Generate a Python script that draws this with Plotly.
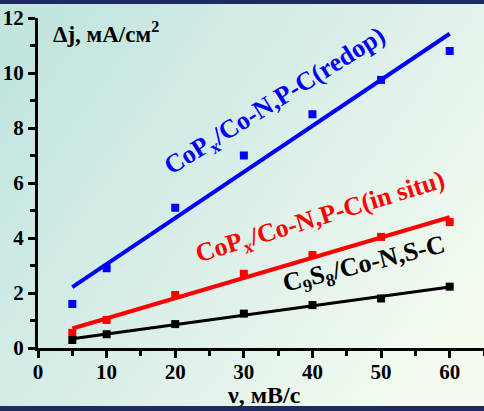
import base64
import numpy as np
import plotly.graph_objects as go

# ---- data ----
scan_rate = [5, 10, 20, 30, 40, 50, 60]
redop = [1.6, 2.9, 5.1, 7.0, 8.5, 9.75, 10.8]
in_situ = [0.55, 1.02, 1.93, 2.7, 3.38, 4.04, 4.58]
c9s8 = [0.29, 0.5, 0.87, 1.25, 1.56, 1.8, 2.23]

series = [
    ("CoP<sub>x</sub>/Co-N,P-C(redop)", redop, "#0000ff", 4),
    ("CoP<sub>x</sub>/Co-N,P-C(in situ)", in_situ, "#ff0000", 4),
    ("C<sub>9</sub>S<sub>8</sub>/Co-N,S-C", c9s8, "#000000", 3),
]

W, H = 484, 411
ML, MR, MT, MB = 38, 0, 18, 63
PW, PH = W - ML - MR, H - MT - MB

fig = go.Figure()
for name, ys, color, lw in series:
    k, b = np.polyfit(scan_rate, ys, 1)
    xl = np.array([scan_rate[0], scan_rate[-1]], dtype=float)
    fig.add_trace(go.Scatter(x=xl, y=k * xl + b, mode="lines",
                             line=dict(color=color, width=lw),
                             showlegend=False, hoverinfo="skip"))
    fig.add_trace(go.Scatter(x=scan_rate, y=ys, mode="markers",
                             marker=dict(symbol="square", size=8, color=color),
                             name=name, showlegend=False))

# background gradient as svg image
svg = f'''<svg xmlns="http://www.w3.org/2000/svg" width="{W}" height="{H}" viewBox="0 0 {W} {H}">
<defs><linearGradient id="g" x1="0" y1="0.2" x2="1" y2="0.8">
<stop offset="0" stop-color="#c2e5df"/>
<stop offset="0.5" stop-color="#dcefe9"/>
<stop offset="1" stop-color="#f5fcef"/>
</linearGradient></defs>
<rect x="0" y="0" width="{W}" height="{H}" fill="url(#g)"/>
<rect x="0" y="0" width="{W}" height="4" fill="#1e2b62"/>
<rect x="0" y="406" width="{W}" height="5" fill="#1e2b62"/>
</svg>'''
src = "data:image/svg+xml;base64," + base64.b64encode(svg.encode()).decode()
fig.add_layout_image(dict(source=src, xref="paper", yref="paper",
                          x=-ML / PW, y=1 + MT / PH, sizex=W / PW, sizey=H / PH,
                          sizing="stretch", xanchor="left", yanchor="top",
                          layer="below"))

font = "Liberation Serif, Times New Roman, serif"
annots = [
    dict(text=series[0][0], x=275, y=102, angle=-32, color="#0000ff", size=26),
    dict(text=series[1][0], x=320, y=218, angle=-17, color="#ff0000", size=26),
    dict(text=series[2][0], x=364, y=265, angle=-14, color="#000000", size=26),
]
for a in annots:
    fig.add_annotation(text=a["text"], xref="paper", yref="paper",
                       x=(a["x"] - ML) / PW, y=1 - (a["y"] - MT) / PH,
                       xanchor="center", yanchor="middle", showarrow=False,
                       textangle=a["angle"],
                       font=dict(family=font, size=a["size"], color=a["color"],
                                 weight="bold"))

fig.add_annotation(text="Δj, мА/см<sup>2</sup>", xref="paper", yref="paper",
                   x=(51 - ML) / PW, y=1 - (32 - MT) / PH, xanchor="left",
                   yanchor="middle", showarrow=False,
                   font=dict(family=font, size=23, color="black", weight="bold"))
fig.add_annotation(text="ν, мВ/с", xref="paper", yref="paper",
                   x=(264 - ML) / PW, y=1 - (395 - MT) / PH, xanchor="center",
                   yanchor="middle", showarrow=False,
                   font=dict(family=font, size=24, color="black", weight="bold"))

tickfont = dict(family=font, size=21, color="black", weight="bold")
fig.update_layout(
    width=W, height=H,
    margin=dict(l=ML, r=MR, t=MT, b=MB, pad=0),
    paper_bgcolor="#d8eee8", plot_bgcolor="rgba(0,0,0,0)",
    font=dict(family=font, size=21, color="black"),
    xaxis=dict(range=[0, 65], tickvals=[0, 10, 20, 30, 40, 50, 60],
               showgrid=False, zeroline=False, showline=True,
               linecolor="black", linewidth=3, ticks="outside",
               ticklen=7, tickwidth=3, tickcolor="black",
               ticklabelstandoff=-4,
               minor=dict(tickvals=[5, 15, 25, 35, 45, 55, 65], ticks="outside",
                          ticklen=5, tickwidth=3, tickcolor="black"),
               tickfont=tickfont),
    yaxis=dict(range=[0, 12], dtick=2, showgrid=False, zeroline=False,
               showline=True, linecolor="black", linewidth=3,
               ticks="outside", ticklen=7, tickwidth=3, tickcolor="black",
               minor=dict(dtick=1, ticks="outside", ticklen=5, tickwidth=3,
                          tickcolor="black"),
               tickfont=tickfont),
)

fig.write_html("out.html")
